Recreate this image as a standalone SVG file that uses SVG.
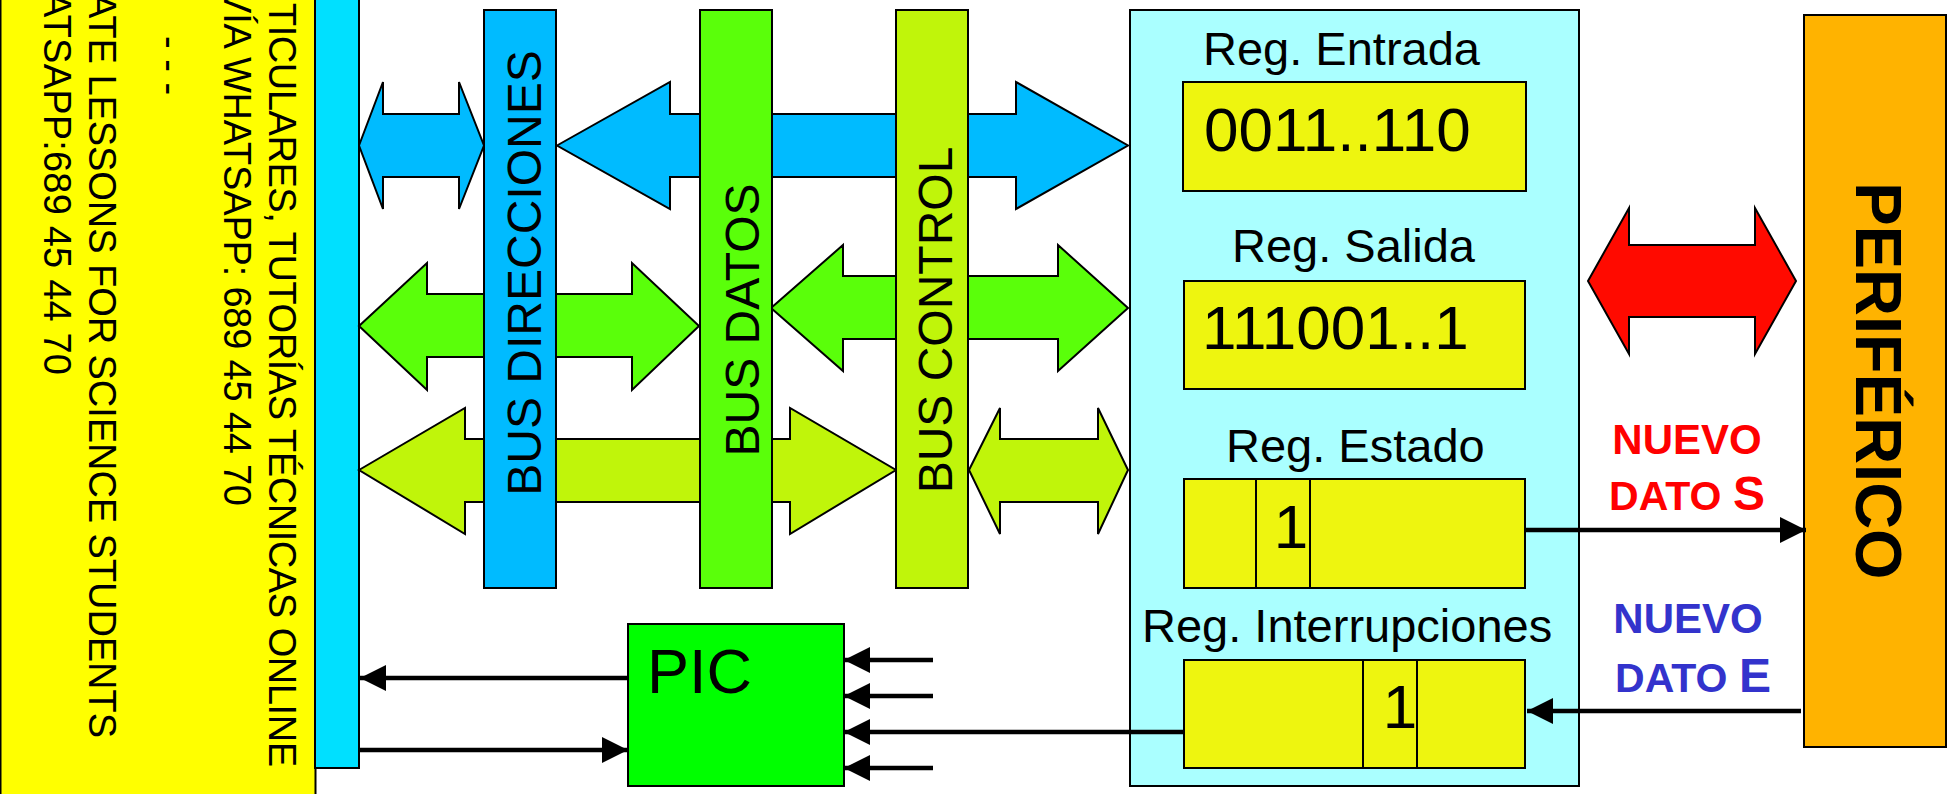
<svg xmlns="http://www.w3.org/2000/svg" width="1955" height="794" viewBox="0 0 1955 794">
<style>
text{font-family:"Liberation Sans",Arial,sans-serif;fill:#000}
.bx{stroke:#000;stroke-width:2}
.blk{stroke:#000;stroke-width:2;stroke-linejoin:miter}
.side{font-size:38px}
.bus{font-size:48px;text-anchor:middle}
.reg{font-size:47px}
.num{font-size:62px}
.ln{stroke:#000;stroke-width:4.5;fill:none}
.nv{font-weight:bold;font-size:42px;text-anchor:middle}
</style>
<defs>
<marker id="ah" markerUnits="userSpaceOnUse" markerWidth="26" markerHeight="26" refX="26" refY="13" orient="auto">
<path d="M0,0 L26,13 L0,26 z" fill="#000"/>
</marker>
</defs>
<rect width="1955" height="794" fill="#fff"/>

<g id="anuncio">
<rect x="0.5" y="-3" width="315" height="800" fill="#FFFF00" class="bx"/>
<text class="side" transform="translate(269,3) rotate(90)" textLength="764">TICULARES, TUTORÍAS TÉCNICAS ONLINE</text>
<text class="side" transform="translate(224,-12) rotate(90)" textLength="518">VÍA WHATSAPP: 689 45 44 70</text>
<text class="side" transform="translate(157,36) rotate(90)">- - -</text>
<text class="side" transform="translate(89,-7) rotate(90)" textLength="745">ATE LESSONS FOR SCIENCE STUDENTS</text>
<text class="side" transform="translate(44,-8) rotate(90)" textLength="383">ATSAPP:689 45 44 70</text>
</g>

<g id="cpu-bus">
<rect x="315" y="-3" width="44" height="771" fill="#00E0FF" class="bx"/>
</g>

<g id="pic">
<rect x="628" y="624" width="216" height="162" fill="#00FF00" class="bx"/>
<text x="647" y="693" style="font-size:63px">PIC</text>
</g>

<g id="registros">
<rect x="1130" y="10" width="449" height="776" fill="#AAFFFF" class="bx"/>
<text class="reg" x="1203" y="65">Reg. Entrada</text>
<rect x="1183" y="82" width="343" height="109" fill="#EEF50F" class="bx"/>
<text class="num" x="1204" y="151">0011..110</text>
<text class="reg" x="1232" y="262">Reg. Salida</text>
<rect x="1184" y="281" width="341" height="108" fill="#EEF50F" class="bx"/>
<text class="num" x="1202" y="349">111001..1</text>
<text class="reg" x="1226" y="462">Reg. Estado</text>
<rect x="1184" y="479" width="341" height="109" fill="#EEF50F" class="bx"/>
<line x1="1256" y1="479" x2="1256" y2="588" stroke="#000" stroke-width="2"/>
<line x1="1310" y1="479" x2="1310" y2="588" stroke="#000" stroke-width="2"/>
<text class="num" x="1291" y="548" text-anchor="middle">1</text>
<text class="reg" x="1142" y="642">Reg. Interrupciones</text>
<rect x="1184" y="660" width="341" height="108" fill="#EEF50F" class="bx"/>
<line x1="1363" y1="660" x2="1363" y2="768" stroke="#000" stroke-width="2"/>
<line x1="1417" y1="660" x2="1417" y2="768" stroke="#000" stroke-width="2"/>
<text class="num" x="1400" y="728" text-anchor="middle">1</text>
</g>

<g id="periferico">
<rect x="1804" y="15" width="142" height="732" fill="#FFB300" class="bx"/>
<text transform="translate(1856,381) rotate(90)" style="font-size:65px;font-weight:bold;text-anchor:middle">PERIFÉRICO</text>
</g>

<g id="senales">
<text class="nv" x="1687" y="454" style="fill:#FF0000">NUEVO</text>
<text class="nv" x="1687" y="510" style="fill:#FF0000;font-size:41px">DATO <tspan style="font-size:48px">S</tspan></text>
<text class="nv" x="1688" y="633" style="fill:#3333CC">NUEVO</text>
<text class="nv" x="1693" y="692" style="fill:#3333CC;font-size:41px">DATO <tspan style="font-size:48px">E</tspan></text>
</g>

<g id="connectors">
<polygon class="blk" fill="#00BBFF" points="359,145.5 383,82 383,114 459,114 459,82 484,145.5 459,209 459,177 383,177 383,209"/>
<polygon class="blk" fill="#00BBFF" points="557,145.5 670,82 670,114 1016,114 1016,82 1128,145.5 1016,209 1016,177 670,177 670,209"/>
<polygon class="blk" fill="#5AFF0A" points="359,326 427,263 427,294 632,294 632,263 699,326 632,390 632,357 427,357 427,390"/>
<polygon class="blk" fill="#5AFF0A" points="771,308 843,245 843,276 1058,276 1058,245 1128,308 1058,371 1058,339 843,339 843,371"/>
<polygon class="blk" fill="#C0F50A" points="359,470 465,408 465,439 790,439 790,408 896,470 790,534 790,502 465,502 465,534"/>
<polygon class="blk" fill="#C0F50A" points="969,470 1000,408 1000,439 1098,439 1098,408 1128,470 1098,534 1098,502 1000,502 1000,534"/>
<polygon class="blk" fill="#FF0A00" points="1588,281 1629,208 1629,245 1755,245 1755,208 1796,281 1755,354 1755,317 1629,317 1629,354"/>
<line class="ln" x1="628" y1="678" x2="360" y2="678" marker-end="url(#ah)"/>
<line class="ln" x1="359" y1="750" x2="628" y2="750" marker-end="url(#ah)"/>
<line class="ln" x1="933" y1="660" x2="844" y2="660" marker-end="url(#ah)"/>
<line class="ln" x1="933" y1="696" x2="844" y2="696" marker-end="url(#ah)"/>
<line class="ln" x1="1184" y1="732" x2="844" y2="732" marker-end="url(#ah)"/>
<line class="ln" x1="933" y1="768" x2="844" y2="768" marker-end="url(#ah)"/>
<line class="ln" x1="1526" y1="530" x2="1806" y2="530" marker-end="url(#ah)"/>
<line class="ln" x1="1801" y1="711" x2="1527" y2="711" marker-end="url(#ah)"/>
</g>

<g id="bus-direcciones">
<rect x="484" y="10" width="72" height="578" fill="#00BBFF" class="bx"/>
<text class="bus" transform="translate(541,273) rotate(-90)">BUS DIRECCIONES</text>
</g>
<g id="bus-datos">
<rect x="700" y="10" width="72" height="578" fill="#5AFF0A" class="bx"/>
<text class="bus" transform="translate(759,320) rotate(-90)">BUS DATOS</text>
</g>
<g id="bus-control">
<rect x="896" y="10" width="72" height="578" fill="#C0F50A" class="bx"/>
<text class="bus" transform="translate(952,320) rotate(-90)">BUS CONTROL</text>
</g>
</svg>
